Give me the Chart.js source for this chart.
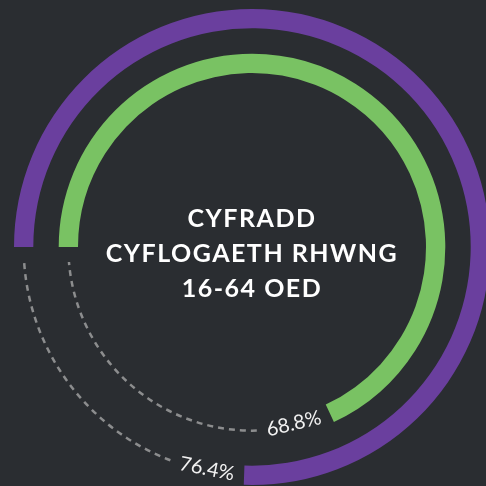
<!DOCTYPE html>
<html><head><meta charset="utf-8">
<script src="https://cdn.jsdelivr.net/npm/chart.js@4"></script>
<style>
html,body{margin:0;padding:0;background:#2a2d31;overflow:hidden;width:486px;height:486px;}
#wrap{position:absolute;left:0;top:0;width:504px;height:494px;}
</style></head><body>
<div id="wrap"><canvas id="c"></canvas></div>
<script>
// ---- data ----
const seriesNames = ['Cymru', 'Ardal'];
const seriesValues = [76.4, 68.8];
const valueLabels = ['76.4%', '68.8%'];
const titleLines = ['CYFRADD', 'CYFLOGAETH RHWNG', '16-64 OED'];
const seriesColors = ['#6a3f9e', '#79c263'];

const remainder = v => 100 - v;

const ringPlugin = {
  id: 'ringDecor',
  afterDatasetsDraw(chart) {
    const ctx = chart.ctx;
    [0, 2].forEach((di, k) => {
      const arc = chart.getDatasetMeta(di).data[0];
      const p = arc.getProps(['x','y','startAngle','endAngle','innerRadius','outerRadius'], true);
      const r = (p.innerRadius + p.outerRadius) / 2;
      ctx.save();
      ctx.font = '400 20px Lato';
      const text = valueLabels[k];
      const w = ctx.measureText(text).width;
      const gap = 10;
      const la = p.endAngle + (gap + w / 2) / r;
      ctx.translate(p.x + (r - 2) * Math.cos(la), p.y + (r - 2) * Math.sin(la));
      ctx.rotate(la - Math.PI / 2);
      ctx.fillStyle = '#f2f2f2';
      ctx.textAlign = 'center';
      ctx.textBaseline = 'middle';
      ctx.fillText(text, 0, 0);
      ctx.restore();
      ctx.save();
      ctx.beginPath();
      ctx.arc(p.x, p.y, r, p.endAngle + (2 * gap + w) / r, p.startAngle + 2 * Math.PI - 15 / r);
      ctx.setLineDash([6, 5]);
      ctx.lineWidth = 2.5;
      ctx.strokeStyle = '#8c8d8e';
      ctx.stroke();
      ctx.restore();
    });
    const a0 = chart.getDatasetMeta(0).data[0];
    ctx.save();
    ctx.font = '700 25px Lato';
    ctx.letterSpacing = '1.5px';
    ctx.fillStyle = '#ffffff';
    ctx.textAlign = 'center';
    ctx.textBaseline = 'alphabetic';
    const base = [-20, 15, 50];
    titleLines.forEach((t, i) => ctx.fillText(t, a0.x, a0.y + base[i]));
    ctx.restore();
  }
};

new Chart(document.getElementById('c'), {
  type: 'doughnut',
  data: {
    labels: ['value', 'remainder'],
    datasets: [
      { label: seriesNames[0], data: [seriesValues[0], remainder(seriesValues[0])],
        backgroundColor: [seriesColors[0], 'rgba(0,0,0,0)'], weight: 19 },
      { label: 'spacer', data: [100], backgroundColor: ['rgba(0,0,0,0)'], weight: 25 },
      { label: seriesNames[1], data: [seriesValues[1], remainder(seriesValues[1])],
        backgroundColor: [seriesColors[1], 'rgba(0,0,0,0)'], weight: 19 }
    ]
  },
  options: {
    responsive: true,
    maintainAspectRatio: false,
    animation: false,
    rotation: -90,
    circumference: 356,
    cutout: 174,
    radius: 238,
    borderWidth: 0,
    hoverOffset: 0,
    layout: { padding: { left: 14, right: 14, top: 9, bottom: 9 } },
    plugins: { legend: { display: false }, tooltip: { enabled: false } },
    events: []
  },
  plugins: [ringPlugin]
});
</script>
</body></html>
